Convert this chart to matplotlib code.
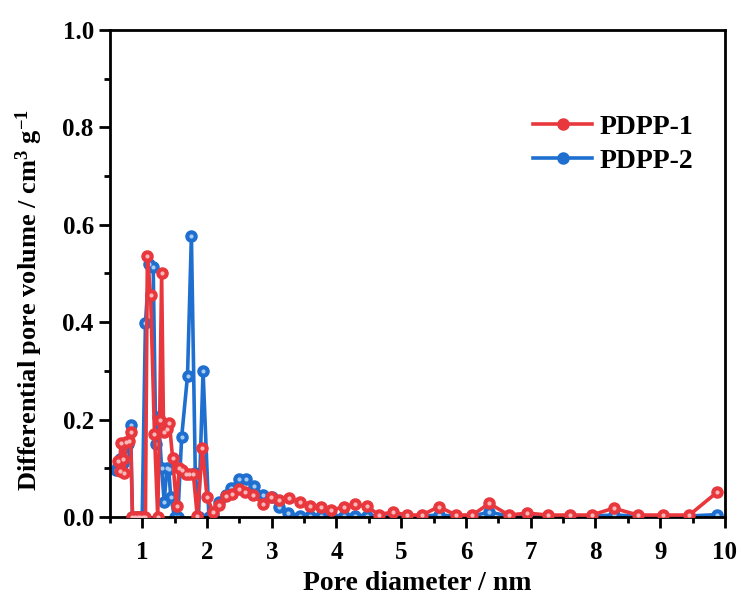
import matplotlib
matplotlib.use('Agg')
import matplotlib.pyplot as plt
from matplotlib.ticker import MultipleLocator

plt.rcParams['font.family'] = 'Liberation Serif'
plt.rcParams['font.weight'] = 'bold'
plt.rcParams['mathtext.fontset'] = 'custom'
plt.rcParams['mathtext.rm'] = 'Liberation Serif:bold'
plt.rcParams['mathtext.bf'] = 'Liberation Serif:bold'
plt.rcParams['mathtext.default'] = 'bf'

# PDPP-1 (red)
x1 = [0.62, 0.65, 0.67, 0.70, 0.72, 0.75, 0.79, 0.82, 0.85, 0.89, 0.93, 0.97,
      1.01, 1.05, 1.08, 1.13, 1.19, 1.24, 1.27, 1.30, 1.33, 1.38, 1.42, 1.47,
      1.53, 1.57, 1.62, 1.67, 1.73, 1.79, 1.85, 1.93, 2.00, 2.09, 2.19, 2.29,
      2.39, 2.49, 2.59, 2.71, 2.87, 2.99, 3.12, 3.27, 3.43, 3.59, 3.76, 3.92,
      4.11, 4.28, 4.47, 4.65, 4.87, 5.09, 5.32, 5.58, 5.85, 6.10, 6.36, 6.66,
      6.95, 7.26, 7.60, 7.94, 8.28, 8.66, 9.04, 9.45, 9.88]
y1 = [0.114, 0.095, 0.151, 0.120, 0.090, 0.153, 0.155, 0.175, 0.0, 0.0, 0.0, 0.0,
      0.0, 0.0, 0.535, 0.455, 0.170, 0.0, 0.200, 0.500, 0.175, 0.180, 0.192, 0.121,
      0.022, 0.100, 0.096, 0.088, 0.088, 0.088, 0.002, 0.141, 0.042, 0.011, 0.025, 0.043,
      0.047, 0.057, 0.052, 0.045, 0.027, 0.042, 0.035, 0.040, 0.030, 0.022, 0.021, 0.015,
      0.020, 0.026, 0.022, 0.005, 0.010, 0.004, 0.004, 0.021, 0.004, 0.004, 0.028, 0.004,
      0.008, 0.004, 0.004, 0.004, 0.018, 0.004, 0.004, 0.004, 0.051]

# PDPP-2 (blue)
x2 = [0.59, 0.62, 0.66, 0.70, 0.74, 0.78, 0.82, 0.85, 0.90, 0.95, 1.00, 1.05,
      1.11, 1.17, 1.21, 1.25, 1.30, 1.34, 1.38, 1.41, 1.44, 1.50, 1.55, 1.61,
      1.70, 1.76, 1.82, 1.87, 1.94, 2.03, 2.10, 2.19, 2.29, 2.37, 2.50, 2.61,
      2.73, 2.86, 3.00, 3.12, 3.25, 3.43, 3.59, 3.76, 3.92, 4.11, 4.28, 4.47,
      4.65, 4.87, 5.09, 5.32, 5.58, 5.85, 6.10, 6.36, 6.66, 6.95, 7.26, 7.60,
      7.94, 8.28, 8.66, 9.04, 9.45, 9.88]
y2 = [0.097, 0.105, 0.120, 0.110, 0.130, 0.150, 0.189, 0.0, 0.0, 0.0, 0.0, 0.398,
      0.520, 0.514, 0.150, 0.206, 0.100, 0.031, 0.100, 0.098, 0.042, 0.0, 0.0, 0.165,
      0.290, 0.577, 0.090, 0.0, 0.300, 0.0, 0.004, 0.030, 0.045, 0.059, 0.079, 0.077,
      0.064, 0.045, 0.042, 0.020, 0.008, 0.003, 0.003, 0.003, 0.003, 0.003, 0.003, 0.003,
      0.002, 0.002, 0.002, 0.002, 0.004, 0.002, 0.002, 0.010, 0.002, 0.002, 0.002, 0.002,
      0.002, 0.004, 0.002, 0.002, 0.002, 0.005]

red = '#E8383D'
blue = '#1F6FD0'

fig = plt.figure(figsize=(7.42, 5.97), dpi=100)
ax = fig.add_axes([0.148, 0.134, 0.829, 0.816])

ax.plot(x2, y2, '-o', color=blue, lw=2.6, ms=8, mec=blue, label='PDPP-2', zorder=2)
ax.plot(x2, y2, 'o', color='#A8CBF3', ms=3, mec='none', zorder=2.1)
ax.plot(x1, y1, '-o', color=red, lw=2.6, ms=8, mec=red, label='PDPP-1', zorder=3)
ax.plot(x1, y1, 'o', color='#F8B8BA', ms=3, mec='none', zorder=3.1)

ax.set_xlim(0.5, 10)
ax.set_ylim(0, 1.0)
ax.xaxis.set_major_locator(MultipleLocator(1))
ax.xaxis.set_minor_locator(MultipleLocator(0.5))
ax.yaxis.set_major_locator(MultipleLocator(0.2))
ax.yaxis.set_minor_locator(MultipleLocator(0.1))
ax.tick_params(which='major', direction='out', length=8, width=2, labelsize=18,
               top=False, right=False)
ax.tick_params(which='minor', direction='out', length=4, width=2,
               top=False, right=False)
ax.tick_params(axis='x', which='major', pad=9)
for sp in ax.spines.values():
    sp.set_linewidth(2)

ax.set_xlabel('Pore diameter / nm', fontsize=20, fontweight='bold', labelpad=5)
ax.set_ylabel('Differential pore volume / cm$^3$ g$^{-1}$', fontsize=19,
              fontweight='bold')
ax.yaxis.set_label_coords(-0.105, 0.445)

handles, labels = ax.get_legend_handles_labels()
ax.legend(handles[::-1], labels[::-1], loc='upper right', bbox_to_anchor=(0.99, 0.878),
          frameon=False, fontsize=20, handlelength=2.1, handletextpad=0.3,
          labelspacing=0.3)

fig.savefig('out.png', dpi=100)
